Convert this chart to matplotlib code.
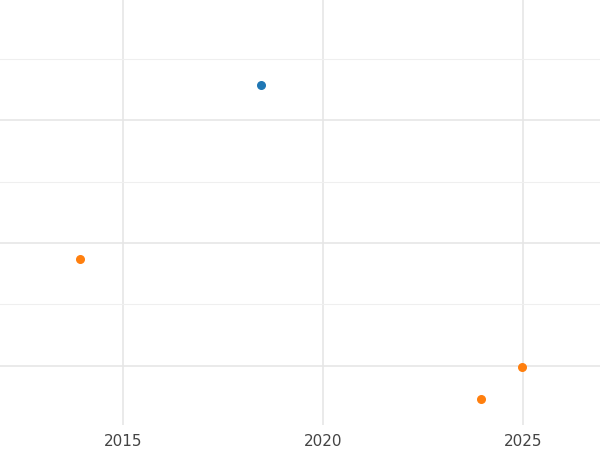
import matplotlib
matplotlib.use("Agg")
import matplotlib.pyplot as plt
from matplotlib.ticker import MultipleLocator

blue_x = [2018.45]
blue_y = [2.285]
orange_x = [2013.93, 2023.95, 2024.98]
orange_y = [0.87, -0.268, -0.008]

fig = plt.figure(figsize=(6, 4.5), dpi=100)
ax = fig.add_axes([0, 0.0556, 1, 0.9444])
ax.set_xlim(2011.925, 2026.925)
ax.set_ylim(-0.48, 2.976)
ax.xaxis.set_major_locator(MultipleLocator(5))
ax.yaxis.set_major_locator(MultipleLocator(1))
ax.yaxis.set_minor_locator(MultipleLocator(0.5))
ax.grid(True, which="major", color="#e6e6e6", linewidth=1.2)
ax.grid(True, which="minor", axis="y", color="#efefef", linewidth=0.8)
ax.set_axisbelow(True)
for s in ax.spines.values():
    s.set_visible(False)
ax.tick_params(axis="both", which="both", length=0, labelsize=11, labelcolor="#444444")
ax.tick_params(axis="x", pad=6.5)
ax.tick_params(axis="y", labelleft=False)
ax.scatter(blue_x, blue_y, s=30, color="#1f77b4", zorder=3)
ax.scatter(orange_x, orange_y, s=30, color="#ff7f0e", zorder=3)
fig.savefig("out.png", dpi=100)
